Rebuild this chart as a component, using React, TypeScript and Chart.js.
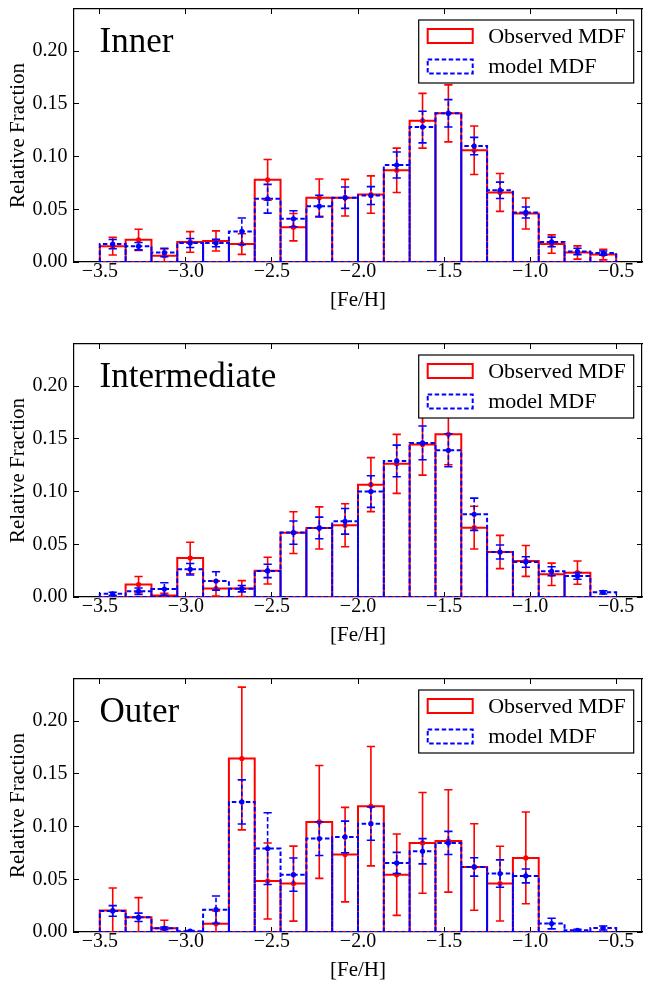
import React, { useEffect, useRef } from "react";
import { Chart, registerables } from "chart.js";

Chart.register(...registerables);

// Histogram bins: left edges in [Fe/H] and common bin width
const BIN_LEFT = [-3.5, -3.35, -3.2, -3.05, -2.9, -2.75, -2.6, -2.45, -2.3, -2.15, -2.0, -1.85, -1.7, -1.55, -1.4, -1.25, -1.1, -0.95, -0.8, -0.65];
const BIN_WIDTH = 0.15;

const X_TICKS = [-3.5, -3.0, -2.5, -2.0, -1.5, -1.0, -0.5];
const Y_TICKS = [0, 0.05, 0.1, 0.15, 0.2];

// Inner region
const INNER_OBS = [0.015, 0.021, 0.006, 0.019, 0.020, 0.017, 0.078, 0.033, 0.061, 0.061, 0.064, 0.087, 0.134, 0.141, 0.106, 0.066, 0.046, 0.017, 0.009, 0.007];
const INNER_OBS_ERR = [0.0084, 0.0101, 0.0063, 0.0098, 0.0095, 0.0098, 0.0193, 0.013, 0.0177, 0.0174, 0.0177, 0.021, 0.026, 0.027, 0.023, 0.018, 0.0147, 0.0087, 0.0063, 0.005];
const INNER_MODEL = [0.017, 0.015, 0.009, 0.018, 0.018, 0.029, 0.060, 0.041, 0.053, 0.061, 0.063, 0.092, 0.128, 0.141, 0.110, 0.068, 0.047, 0.019, 0.010, 0.0085];
const INNER_MODEL_ERR = [0.0044, 0.0035, 0.004, 0.0043, 0.0035, 0.0127, 0.0136, 0.0076, 0.0103, 0.0101, 0.0085, 0.0123, 0.015, 0.013, 0.0082, 0.0078, 0.0052, 0.0046, 0.003, 0.002];

// Intermediate region
const MID_OBS = [0, 0.0118, 0.0015, 0.037, 0.008, 0.008, 0.025, 0.061, 0.0655, 0.068, 0.1066, 0.1263, 0.1446, 0.1544, 0.0658, 0.0427, 0.0342, 0.0215, 0.0231, 0];
const MID_OBS_ERR = [0, 0.0076, 0.002, 0.015, 0.0071, 0.0075, 0.0127, 0.0198, 0.02, 0.0204, 0.0256, 0.028, 0.029, 0.029, 0.0203, 0.0158, 0.0146, 0.0106, 0.011, 0];
const MID_MODEL = [0.003, 0.0055, 0.0075, 0.0263, 0.0152, 0.0079, 0.0247, 0.0611, 0.0655, 0.0718, 0.100, 0.1291, 0.1462, 0.1392, 0.0785, 0.0427, 0.0332, 0.0244, 0.020, 0.0044];
const MID_MODEL_ERR = [0.0015, 0.003, 0.006, 0.0055, 0.0087, 0.003, 0.0063, 0.011, 0.0103, 0.0122, 0.015, 0.015, 0.016, 0.0157, 0.0153, 0.0066, 0.005, 0.0043, 0.0032, 0.0016];

// Outer region
const OUTER_OBS = [0.0203, 0.0139, 0.0035, 0, 0.0079, 0.1646, 0.0484, 0.0459, 0.1044, 0.0734, 0.1193, 0.0544, 0.0845, 0.0864, 0.0617, 0.0459, 0.0703, 0, 0, 0];
const OUTER_OBS_ERR = [0.0214, 0.0187, 0.0076, 0, 0.012, 0.0677, 0.036, 0.0356, 0.0535, 0.0448, 0.0566, 0.0386, 0.0478, 0.0486, 0.041, 0.0354, 0.0435, 0, 0, 0];
const OUTER_MODEL = [0.020, 0.0139, 0.0035, 0.0008, 0.0212, 0.1234, 0.0791, 0.0544, 0.0886, 0.0902, 0.1028, 0.0655, 0.0766, 0.0845, 0.0617, 0.0554, 0.0532, 0.008, 0.0016, 0.0038];
const OUTER_MODEL_ERR = [0.005, 0.004, 0.0012, 0.0006, 0.013, 0.0209, 0.034, 0.0158, 0.016, 0.015, 0.0158, 0.01, 0.012, 0.011, 0.0087, 0.013, 0.0066, 0.005, 0.001, 0.0019];

const PANEL_TITLES = ["Inner", "Intermediate", "Outer"];
const LABEL_OBS = "Observed MDF";
const LABEL_MODEL = "model MDF";

const PANELS = [
  { title: PANEL_TITLES[0], obs: INNER_OBS, obsErr: INNER_OBS_ERR, model: INNER_MODEL, modelErr: INNER_MODEL_ERR },
  { title: PANEL_TITLES[1], obs: MID_OBS, obsErr: MID_OBS_ERR, model: MID_MODEL, modelErr: MID_MODEL_ERR },
  { title: PANEL_TITLES[2], obs: OUTER_OBS, obsErr: OUTER_OBS_ERR, model: OUTER_MODEL, modelErr: OUTER_MODEL_ERR },
];

const RED = "#ff0000";
const BLUE = "#0000ff";
const SERIF = "'Liberation Serif', 'Times New Roman', serif";
const DASH = [4.5, 2.5];
const CAP_HALF = 0.024; // half width of error-bar caps, in [Fe/H] units

const CANVAS_W = 646;
const CANVAS_H = 311;
const PANEL_STEP = 335;
const AREA_BOTTOM = 262;

type Pt = { x: number; y: number | null };

// Closed outline of every histogram bar (one rectangle per bin)
function barOutline(values: number[]): Pt[] {
  const pts: Pt[] = [];
  values.forEach((v, i) => {
    const l = BIN_LEFT[i];
    const r = l + BIN_WIDTH;
    pts.push({ x: l, y: 0 }, { x: l, y: v }, { x: r, y: v }, { x: r, y: 0 }, { x: l, y: 0 }, { x: r, y: null });
  });
  return pts;
}

function centers(): number[] {
  return BIN_LEFT.map((l) => l + BIN_WIDTH / 2);
}

function errStems(values: number[], errs: number[]): Pt[] {
  const c = centers();
  const pts: Pt[] = [];
  values.forEach((v, i) => {
    if (v <= 0) return;
    pts.push({ x: c[i], y: v - errs[i] }, { x: c[i], y: v + errs[i] }, { x: c[i], y: null });
  });
  return pts;
}

function errCaps(values: number[], errs: number[]): Pt[] {
  const c = centers();
  const pts: Pt[] = [];
  values.forEach((v, i) => {
    if (v <= 0) return;
    const hi = v + errs[i];
    const lo = v - errs[i];
    pts.push({ x: c[i] - CAP_HALF, y: hi }, { x: c[i] + CAP_HALF, y: hi }, { x: c[i], y: null });
    pts.push({ x: c[i] - CAP_HALF, y: lo }, { x: c[i] + CAP_HALF, y: lo }, { x: c[i], y: null });
  });
  return pts;
}

function dots(values: number[]): Pt[] {
  const c = centers();
  const pts: Pt[] = [];
  values.forEach((v, i) => {
    if (v > 0) pts.push({ x: c[i], y: v });
  });
  return pts;
}

const fmtMinus = (v: number, digits: number) => {
  const s = Math.abs(v).toFixed(digits);
  return v < 0 ? "\u2212" + s : s;
};

// Framed legend in the upper-right corner of the plotting area
const boxLegend = {
  id: "boxLegend",
  afterDatasetsDraw(chart: any) {
    const { ctx, chartArea } = chart;
    const items = chart.data.datasets.filter((d: any) => d.inLegend);
    const w = 215;
    const h = 63;
    const x0 = chartArea.right - 223.3;
    const y0 = chartArea.top + 11;
    ctx.save();
    ctx.fillStyle = "#ffffff";
    ctx.fillRect(x0, y0, w, h);
    ctx.strokeStyle = "#000000";
    ctx.lineWidth = 1.2;
    ctx.strokeRect(x0, y0, w, h);
    items.forEach((d: any, i: number) => {
      const rowY = y0 + 16 + i * 30.5;
      ctx.setLineDash(d.borderDash || []);
      ctx.strokeStyle = d.borderColor;
      ctx.lineWidth = d.borderWidth;
      ctx.strokeRect(x0 + 9, rowY - 7, 45, 14);
      ctx.setLineDash([]);
      ctx.fillStyle = "#000000";
      ctx.font = `22px ${SERIF}`;
      ctx.textBaseline = "middle";
      ctx.textAlign = "left";
      ctx.fillText(d.label, x0 + 69.5, rowY + 1);
    });
    ctx.restore();
  },
};

// Region name in the upper-left corner
const panelTitle = {
  id: "panelTitle",
  afterDatasetsDraw(chart: any, _args: any, opts: any) {
    const { ctx, chartArea } = chart;
    ctx.save();
    ctx.fillStyle = "#000000";
    ctx.font = `35px ${SERIF}`;
    ctx.textBaseline = "alphabetic";
    ctx.textAlign = "left";
    ctx.fillText(opts.text, chartArea.left + 25.5, chartArea.top + 43.3);
    ctx.restore();
  },
};

// Axis boxes keep fixed sizes and add no extra label padding to the layout
const noPad = (s: any) => {
  s.paddingTop = 0;
  s.paddingBottom = 0;
  s.paddingLeft = 0;
  s.paddingRight = 0;
};

function makeConfig(panel: (typeof PANELS)[number]) {
  const lineBase = { pointRadius: 0, fill: false, tension: 0, spanGaps: false, showLine: true };
  const datasets: any[] = [
    { ...lineBase, label: LABEL_OBS, inLegend: true, data: barOutline(panel.obs), borderColor: RED, borderWidth: 2, order: 8 },
    { ...lineBase, label: LABEL_MODEL, inLegend: true, data: barOutline(panel.model), borderColor: BLUE, borderWidth: 2, borderDash: DASH, order: 7 },
    { ...lineBase, label: "obs err", data: errStems(panel.obs, panel.obsErr), borderColor: RED, borderWidth: 1.6, order: 6 },
    { ...lineBase, label: "obs caps", data: errCaps(panel.obs, panel.obsErr), borderColor: RED, borderWidth: 1.6, order: 5 },
    { label: "obs pts", data: dots(panel.obs), showLine: false, pointRadius: 2.6, pointBorderWidth: 0, pointBackgroundColor: RED, borderColor: RED, order: 4 },
    { ...lineBase, label: "model err", data: errStems(panel.model, panel.modelErr), borderColor: BLUE, borderWidth: 1.6, borderDash: DASH, order: 3 },
    { ...lineBase, label: "model caps", data: errCaps(panel.model, panel.modelErr), borderColor: BLUE, borderWidth: 1.6, order: 2 },
    { label: "model pts", data: dots(panel.model), showLine: false, pointRadius: 2.6, pointBorderWidth: 0, pointBackgroundColor: BLUE, borderColor: BLUE, order: 1 },
  ];

  const tickFont = { family: SERIF, size: 20 };
  const grid = { display: true, drawOnChartArea: false, drawTicks: true, tickLength: -5, color: "#000000", lineWidth: 1 };
  const border = { display: true, color: "#000000", width: 1.2 };

  return {
    type: "line" as const,
    data: { datasets },
    plugins: [boxLegend, panelTitle],
    options: {
      responsive: false,
      animation: false,
      events: [],
      layout: { padding: { top: 9, right: 2, bottom: 0, left: 0 } },
      plugins: {
        legend: { display: false },
        tooltip: { enabled: false },
        panelTitle: { text: panel.title },
      },
      scales: {
        x: {
          type: "linear",
          position: "bottom",
          min: -3.65,
          max: -0.35,
          afterBuildTicks: (s: any) => { s.ticks = X_TICKS.map((v) => ({ value: v })); },
          afterFit: (s: any) => { s.height = CANVAS_H - AREA_BOTTOM; noPad(s); },
          ticks: { font: tickFont, color: "#000000", padding: 3, autoSkip: false, maxRotation: 0, callback: (v: any) => fmtMinus(Number(v), 1) },
          grid,
          border,
          title: { display: true, text: "[Fe/H]", color: "#000000", font: { family: SERIF, size: 21, lineHeight: 1 }, padding: { top: 0, bottom: 0.5 } },
        },
        xTop: {
          type: "linear",
          position: "top",
          min: -3.65,
          max: -0.35,
          afterBuildTicks: (s: any) => { s.ticks = X_TICKS.map((v) => ({ value: v })); },
          afterFit: (s: any) => { s.height = 0; noPad(s); },
          ticks: { display: false },
          grid,
          border,
        },
        y: {
          type: "linear",
          position: "left",
          min: 0,
          max: 0.24,
          afterBuildTicks: (s: any) => { s.ticks = Y_TICKS.map((v) => ({ value: v })); },
          afterFit: (s: any) => { s.width = 74; noPad(s); },
          ticks: { font: tickFont, color: "#000000", padding: 11.5, autoSkip: false, callback: (v: any) => Number(v).toFixed(2) },
          grid,
          border,
          title: { display: true, text: "Relative Fraction", color: "#000000", font: { family: SERIF, size: 21, lineHeight: 1 }, padding: { top: 8, bottom: 0 } },
        },
        yRight: {
          type: "linear",
          position: "right",
          min: 0,
          max: 0.24,
          afterBuildTicks: (s: any) => { s.ticks = Y_TICKS.map((v) => ({ value: v })); },
          afterFit: (s: any) => { s.width = 0; noPad(s); },
          ticks: { display: false },
          grid,
          border,
        },
      },
    },
  };
}

function Panel({ panel, top }: { panel: (typeof PANELS)[number]; top: number }) {
  const ref = useRef<HTMLCanvasElement>(null);
  useEffect(() => {
    if (!ref.current) return;
    const chart = new Chart(ref.current, makeConfig(panel) as any);
    return () => chart.destroy();
  }, [panel]);
  return (
    <canvas
      ref={ref}
      width={CANVAS_W}
      height={CANVAS_H}
      style={{ position: "absolute", left: 0, top, width: CANVAS_W, height: CANVAS_H, display: "block" }}
    />
  );
}

export default function App() {
  return (
    <div
      style={{
        position: "absolute",
        left: 0,
        top: 0,
        width: CANVAS_W,
        height: 981,
        overflow: "hidden",
        background: "#ffffff",
      }}
    >
      {PANELS.map((p, i) => (
        <Panel key={p.title} panel={p} top={i * PANEL_STEP} />
      ))}
    </div>
  );
}
